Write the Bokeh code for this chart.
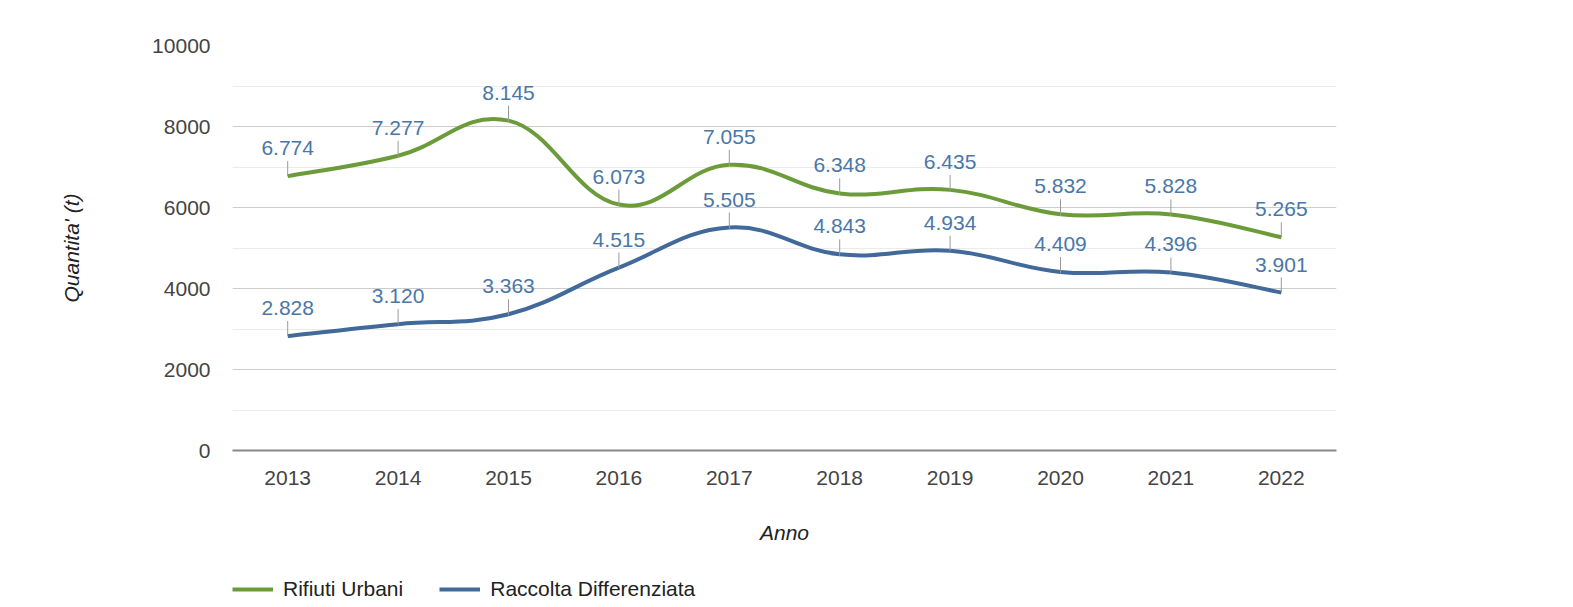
import numpy as np
from bokeh.plotting import figure
from bokeh.layouts import column
from bokeh.models import (Range1d, FixedTicker, Legend, LegendItem, ColumnDataSource)
from bokeh.core.properties import value
from bokeh.embed import file_html
from bokeh.resources import INLINE

years = ["2013", "2014", "2015", "2016", "2017", "2018", "2019", "2020", "2021", "2022"]
rifiuti_urbani = [6774, 7277, 8145, 6073, 7055, 6348, 6435, 5832, 5828, 5265]
raccolta_diff = [2828, 3120, 3363, 4515, 5505, 4843, 4934, 4409, 4396, 3901]
series_names = ["Rifiuti Urbani", "Raccolta Differenziata"]
y_ticks = [0, 2000, 4000, 6000, 8000, 10000]

GREEN = "#6c9b3a"
BLUE = "#41699a"
LABEL_C = "#4a77a8"
FONT = "Liberation Sans"
FS = "21px"

xs = [i + 0.5 for i in range(len(years))]

p = figure(width=1557, height=560, output_backend="svg", toolbar_location=None,
           x_range=Range1d(0, len(years)), y_range=Range1d(0, 10000),
           min_border_left=232, min_border_right=221, min_border_top=45,
           min_border_bottom=110)
p.outline_line_color = None
p.background_fill_color = "white"
p.border_fill_color = "white"

# grid
p.ygrid.ticker = FixedTicker(ticks=y_ticks, minor_ticks=[1000, 3000, 5000, 7000, 9000])
p.ygrid.grid_line_color = "#cccccc"
p.ygrid.grid_line_width = 1
p.ygrid.minor_grid_line_color = "#ebebeb"
p.xgrid.grid_line_color = None

# axes
p.yaxis.ticker = FixedTicker(ticks=y_ticks)
p.yaxis.axis_line_color = None
p.yaxis.major_tick_line_color = None
p.yaxis.minor_tick_line_color = None
p.yaxis.major_label_standoff = 16
p.yaxis.major_label_text_font = FONT
p.yaxis.major_label_text_font_size = FS
p.yaxis.major_label_text_color = "#444444"
p.yaxis.axis_label = "Quantita' (t)"
p.yaxis.axis_label_text_font = FONT
p.yaxis.axis_label_text_font_size = FS
p.yaxis.axis_label_text_font_style = "italic"
p.yaxis.axis_label_text_color = "#222222"
p.yaxis.axis_label_standoff = 66

p.xaxis.ticker = FixedTicker(ticks=xs)
p.xaxis.major_label_overrides = {x: y for x, y in zip(xs, years)}
p.xaxis.axis_line_color = "#888888"
p.xaxis.axis_line_width = 2
p.xaxis.major_tick_line_color = None
p.xaxis.minor_tick_line_color = None
p.xaxis.major_label_standoff = 14
p.xaxis.major_label_text_font = FONT
p.xaxis.major_label_text_font_size = FS
p.xaxis.major_label_text_color = "#444444"
p.xaxis.axis_label = "Anno"
p.xaxis.axis_label_text_font = FONT
p.xaxis.axis_label_text_font_size = FS
p.xaxis.axis_label_text_font_style = "italic"
p.xaxis.axis_label_text_color = "#222222"
p.xaxis.axis_label_standoff = 33


def smooth_segments(x, y, t=0.2):
    x = np.asarray(x, float)
    y = np.asarray(y, float)
    n = len(x)
    x0, y0, x1, y1, cx0, cy0, cx1, cy1 = ([] for _ in range(8))
    for i in range(n - 1):
        im1 = max(i - 1, 0)
        ip2 = min(i + 2, n - 1)
        x0.append(x[i]); y0.append(y[i]); x1.append(x[i + 1]); y1.append(y[i + 1])
        cx0.append(x[i] + (x[i + 1] - x[im1]) * t)
        cy0.append(y[i] + (y[i + 1] - y[im1]) * t)
        cx1.append(x[i + 1] - (x[ip2] - x[i]) * t)
        cy1.append(y[i + 1] - (y[ip2] - y[i]) * t)
    return dict(x0=x0, y0=y0, x1=x1, y1=y1, cx0=cx0, cy0=cy0, cx1=cx1, cy1=cy1)


for vals, color in [(rifiuti_urbani, GREEN), (raccolta_diff, BLUE)]:
    seg = ColumnDataSource(smooth_segments(xs, vals))
    p.bezier(x0="x0", y0="y0", x1="x1", y1="y1", cx0="cx0", cy0="cy0",
             cx1="cx1", cy1="cy1", source=seg, line_color=color, line_width=4)
    # label ticks
    p.ray(x=xs, y=vals, length=15, length_units="screen", angle=np.pi / 2,
          line_color="#999999", line_width=1)
    labels = [f"{v:,}".replace(",", ".") for v in vals]
    p.text(x=xs, y=vals, text=labels, text_align="center", text_baseline="alphabetic",
           y_offset=-28, text_font=value(FONT), text_font_size=FS,
           text_color=LABEL_C)

# legend strip below the chart (dummy renderers lie outside the visible range)
lg = figure(width=1557, height=44, output_backend="svg", toolbar_location=None,
            x_axis_type=None, y_axis_type=None, x_range=Range1d(0, 1), y_range=Range1d(0, 1),
            min_border_left=0, min_border_right=0, min_border_top=0, min_border_bottom=0)
lg.outline_line_color = None
lg.xgrid.grid_line_color = None
lg.ygrid.grid_line_color = None
items = []
for name, color in zip(series_names, [GREEN, BLUE]):
    r = lg.line(x=[-5, -4], y=[-5, -4], line_color=color, line_width=4)
    items.append(LegendItem(label=name, renderers=[r]))
legend = Legend(items=items, location=(0, 3), orientation="horizontal")
legend.padding = 0
legend.margin = 0
legend.spacing = 36
legend.glyph_width = 41
legend.glyph_height = 20
legend.label_standoff = 10
legend.label_text_font = FONT
legend.label_text_font_size = FS
legend.label_text_color = "#222222"
legend.border_line_color = None
legend.background_fill_alpha = 0
lg.add_layout(legend, "center")

layout = column(p, lg, spacing=0)
open("out.html", "w").write(file_html(layout, INLINE))
